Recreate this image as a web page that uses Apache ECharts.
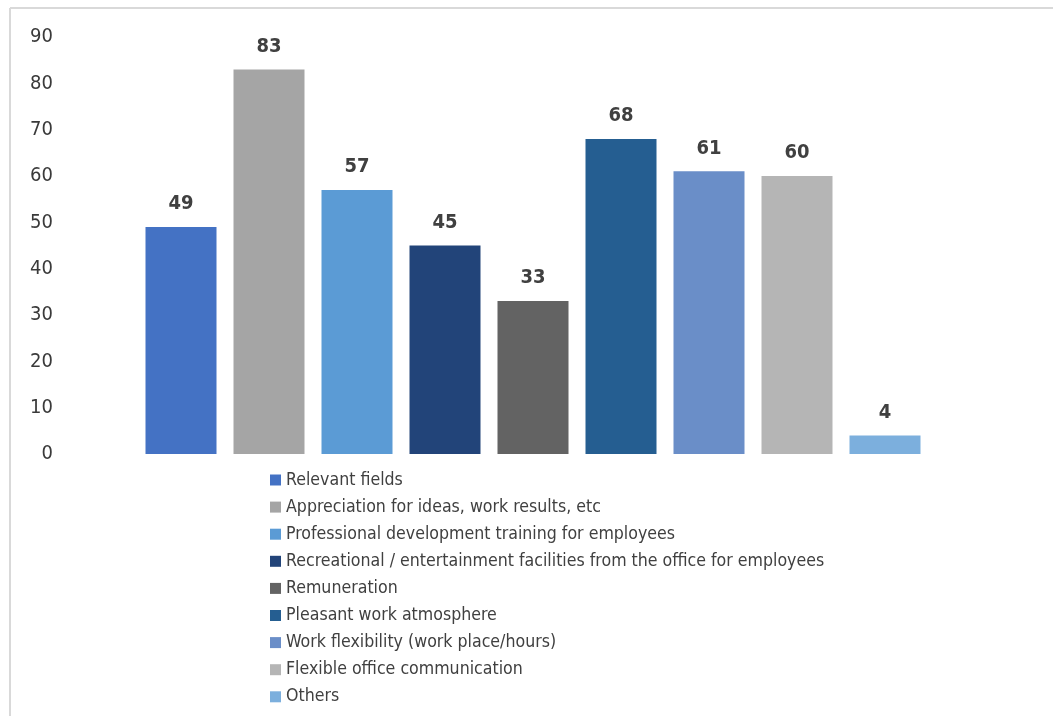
<!DOCTYPE html>
<html>
<head>
<meta charset="utf-8">
<script src="https://cdn.jsdelivr.net/npm/echarts@6/dist/echarts.min.js"></script>
<style>
html,body{margin:0;padding:0;background:#fff;}
#chart{width:1053px;height:716px;}
</style>
</head>
<body>
<div id="chart"></div>
<script>
const categories = [
  "Relevant fields",
  "Appreciation for ideas, work results, etc",
  "Professional development training for employees",
  "Recreational / entertainment facilities from the office for employees",
  "Remuneration",
  "Pleasant work atmosphere",
  "Work flexibility (work place/hours)",
  "Flexible office communication",
  "Others"
];
const values = [49, 83, 57, 45, 33, 68, 61, 60, 4];
const colors = ["#4472C4", "#A5A5A5", "#5B9BD5", "#224479", "#636363", "#255E91", "#6A8EC8", "#B5B5B5", "#7CAFDD"];
const yTicks = [0, 10, 20, 30, 40, 50, 60, 70, 80, 90];

const FONT = "'Liberation Sans Narrow', 'Arial Narrow', 'DejaVu Sans Condensed', sans-serif";

const chart = echarts.init(document.getElementById('chart'));
const series = categories.map((name, i) => ({
  name: name,
  type: 'bar',
  stack: 'all',
  barWidth: 71,
  itemStyle: { color: colors[i] },
  label: {
    show: true,
    position: 'top',
    distance: 13,
    color: '#404040',
    fontFamily: FONT,
    fontSize: 20,
    fontWeight: 'bold',
    formatter: p => p.value
  },
  data: categories.map((c, j) => j === i ? values[i] : '-')
}));

chart.setOption({
  animation: false,
  backgroundColor: '#ffffff',
  grid: { left: 137, right: 124, top: 37, bottom: 262, containLabel: false },
  xAxis: {
    type: 'category',
    data: categories,
    axisLine: { show: false },
    axisTick: { show: false },
    axisLabel: { show: false },
    splitLine: { show: false }
  },
  yAxis: {
    type: 'value',
    min: yTicks[0],
    max: yTicks[yTicks.length - 1],
    interval: 10,
    axisLine: { show: false },
    axisTick: { show: false },
    splitLine: { show: false },
    axisLabel: {
      margin: 84,
      color: '#3a3a3a',
      fontFamily: FONT,
      fontSize: 20
    }
  },
  legend: {
    orient: 'vertical',
    left: 270,
    top: 471,
    padding: 0,
    itemWidth: 11,
    itemHeight: 11,
    itemGap: 9.1,
    icon: 'rect',
    data: categories,
    textStyle: {
      color: '#404040',
      fontFamily: FONT,
      fontSize: 17.6,
      lineHeight: 18
    }
  },
  graphic: [
    { type: 'line', shape: { x1: 10, y1: 8, x2: 1053, y2: 8 }, style: { stroke: '#d9d9d9', lineWidth: 2 } },
    { type: 'line', shape: { x1: 10, y1: 8, x2: 10, y2: 716 }, style: { stroke: '#d9d9d9', lineWidth: 2 } }
  ],
  series: series
});
</script>
</body>
</html>
